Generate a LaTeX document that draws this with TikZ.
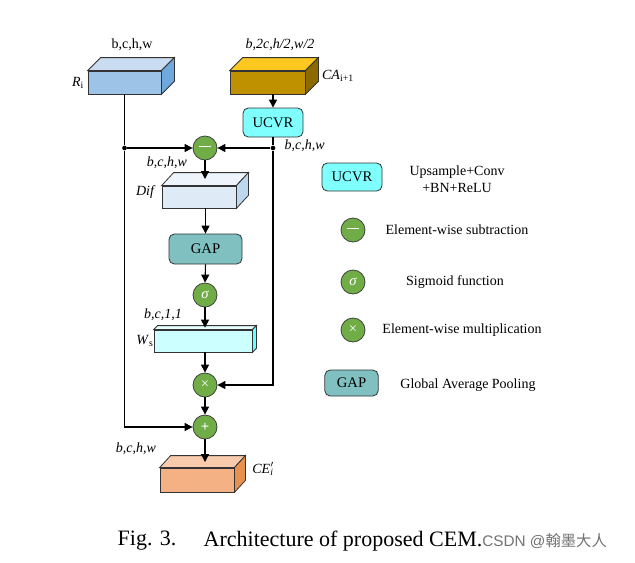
\documentclass[tikz,border=0pt]{standalone}
\usepackage{fontspec}
\setmainfont{Liberation Serif}
\newfontfamily\cjk{Noto Sans CJK SC}
\newfontfamily\wmsans{Liberation Sans}
\usetikzlibrary{arrows.meta,calc}
\definecolor{Rfront}{HTML}{9DC3E6}
\definecolor{Rtop}{HTML}{C9DCF1}
\definecolor{Rside}{HTML}{6FA8DC}
\definecolor{CAfront}{HTML}{BF9000}
\definecolor{CAtop}{HTML}{FFC820}
\definecolor{CAside}{HTML}{8C6A00}
\definecolor{ucvrfill}{HTML}{80FFFF}
\definecolor{Diffront}{HTML}{DEEBF7}
\definecolor{Diftop}{HTML}{EEF4FB}
\definecolor{Difside}{HTML}{BDD7EE}
\definecolor{gapfill}{HTML}{80C0C0}
\definecolor{Wsfront}{HTML}{CCFFFF}
\definecolor{Wstop}{HTML}{E6FFFF}
\definecolor{Wsside}{HTML}{66FFFF}
\definecolor{CEfront}{HTML}{F4B183}
\definecolor{CEtop}{HTML}{F8CBAD}
\definecolor{CEside}{HTML}{E8914F}
\definecolor{opgreen}{HTML}{70AD47}
\newcommand\cubefaces[5]{%
  \draw[face,fill=#4] (#1.north west) -- ++(#2,-#3) -- ($(#1.north east)+(#2,-#3)$) -- (#1.north east) -- cycle;
  \draw[face,fill=#5] (#1.north east) -- ++(#2,-#3) -- ($(#1.south east)+(#2,-#3)$) -- (#1.south east) -- cycle;}
\begin{document}
\begin{tikzpicture}[x=0.75pt,y=-0.75pt,
  lbl/.style={font=\fontsize{10.5}{12}\selectfont},
  ilbl/.style={font=\fontsize{10.5}{12}\selectfont\itshape},
  leg/.style={font=\fontsize{10.5}{12.5}\selectfont, align=center},
  op/.style={circle, draw=black!75, fill=opgreen, minimum size=18pt, inner sep=0pt, text=white, line width=0.6pt, font=\fontsize{11}{12}\selectfont},
  rbox/.style={rounded corners=4pt, draw=black!80, line width=0.6pt, inner sep=0pt, font=\fontsize{11}{13}\selectfont},
  face/.style={draw=black!80, line width=0.6pt, inner sep=0pt},
  arr/.style={-{Triangle[length=6pt,width=6pt]}, line width=0.8pt},
  ln/.style={line width=0.8pt},
  jdot/.style={circle, fill=black, inner sep=0pt, minimum size=3.5pt}]
\useasboundingbox (0,0) rectangle (635,562);
\fill[white] (0,0) rectangle (635,562);

% blocks
\node[face, fill=Rfront, minimum width=54.75pt, minimum height=17.25pt] (R) at (124.5,82.5) {};
\cubefaces{R}{13}{13}{Rtop}{Rside}
\node[face, fill=CAfront, minimum width=56.25pt, minimum height=17.25pt] (CA) at (267.5,82.5) {};
\cubefaces{CA}{13}{13}{CAtop}{CAside}
\node[rbox, fill=ucvrfill, minimum width=45pt, minimum height=21.75pt] (UCVR) at (273,122.5) {UCVR};
\node[op] (minus) at (205,148) {\rule[2.8pt]{9pt}{0.9pt}};
\node[face, fill=Diffront, minimum width=55.5pt, minimum height=16.5pt] (Dif) at (199,197) {};
\cubefaces{Dif}{12}{13}{Diftop}{Difside}
\node[rbox, fill=gapfill, minimum width=54.75pt, minimum height=22.5pt] (GAP) at (205.5,249) {GAP};
\node[op] (sig) at (205,295) {\itshape σ};
\node[face, fill=Wsfront, minimum width=73.5pt, minimum height=16.5pt] (Ws) at (203,341) {};
\cubefaces{Ws}{4}{4}{Wstop}{Wsside}
\node[op] (times) at (205,385) {×};
\node[op] (plus) at (205,427) {\textbf{+}};
\node[face, fill=CEfront, minimum width=55.5pt, minimum height=18pt] (CE) at (197,480) {};
\cubefaces{CE}{11}{12}{CEtop}{CEside}

\coordinate (diftop) at (205,179);
\coordinate (cetop) at (205,462);

% connectors
\draw[arr] (UCVR.north |- CA.south) -- (UCVR.north);
\node[jdot] (jl) at (R.south |- minus) {};
\node[jdot] (jr) at (UCVR.south |- minus) {};
\draw[ln] (R.south) -- (jl);
\draw[arr] (jl) -- (minus.west);
\draw[arr] (jl) |- (plus.west);
\draw[ln] (UCVR.south) -- (jr);
\draw[arr] (jr) -- (minus.east);
\draw[arr] (jr) |- (times.east);
\draw[arr] (minus.south) -- (diftop);
\draw[arr] (GAP.north |- Dif.south) -- (GAP.north);
\draw[arr] (GAP.south) -- (sig.north);
\draw[arr] (sig.south) -- ($(sig |- Ws.north)+(0,-2)$);
\draw[arr] (times.north |- Ws.south) -- (times.north);
\draw[arr] (times.south) -- (plus.north);
\draw[arr] (plus.south) -- (cetop);

% labels
\node[lbl] (lR) at (132,45) {b,c,h,w};
\node[ilbl] (lCA) at (280,45) {b,2c,h/2,w/2};
\node[lbl] (nR) at (78,83) {\textit{R}\textsubscript{i}};
\node[lbl] (nCA) at (338,76) {\textit{CA}\textsubscript{i+1}};
\node[ilbl, anchor=west] (lr2) at (280,146) {b,c,h,w};
\node[ilbl] (lm) at (167,163) {b,c,h,w};
\node[ilbl] (nDif) at (145,192) {Dif};
\node[ilbl] (l11) at (163,315) {b,c,1,1};
\node[lbl] (nWs) at (145,341) {\textit{W}\textsubscript{s}};
\node[ilbl] (lce) at (136,449) {b,c,h,w};
\node[lbl] (nCE) at (263,469) {\textit{CE}\rlap{\textsuperscript{$\prime$}}\textsubscript{\textit{i}}};

% legend
\node[rbox, fill=ucvrfill, minimum width=45pt, minimum height=21pt] (gU) at (352,177) {UCVR};
\node[leg] (tU) at (457,179) {Upsample+Conv\\+BN+ReLU};
\node[op] (gm) at (353,230) {\rule[2.8pt]{9pt}{0.9pt}};
\node[leg] (tm) at (457,230) {Element-wise subtraction};
\node[op] (gs) at (353,282) {\itshape σ};
\node[leg] (ts) at (455,282) {Sigmoid function};
\node[op] (gt) at (353,330) {×};
\node[leg] (tt) at (462,330) {Element-wise multiplication};
\node[rbox, fill=gapfill, minimum width=40pt, minimum height=19.5pt] (gG) at (351.5,383) {GAP};
\node[leg] (tG) at (468,385) {Global Average Pooling};

% caption
\node[anchor=west, font=\fontsize{16.5}{19}\selectfont] (capA) at (113,541) {Fig. 3.};
\node[anchor=west, font=\fontsize{16.5}{19}\selectfont] (capB) at (199,541) {Architecture of proposed CEM.};
\node[anchor=west, text=black!55, font=\fontsize{11.5}{14}\selectfont, inner sep=0pt] (wm) at (482,541) {\wmsans CSDN @\cjk 翰墨大人};
\end{tikzpicture}
\end{document}
